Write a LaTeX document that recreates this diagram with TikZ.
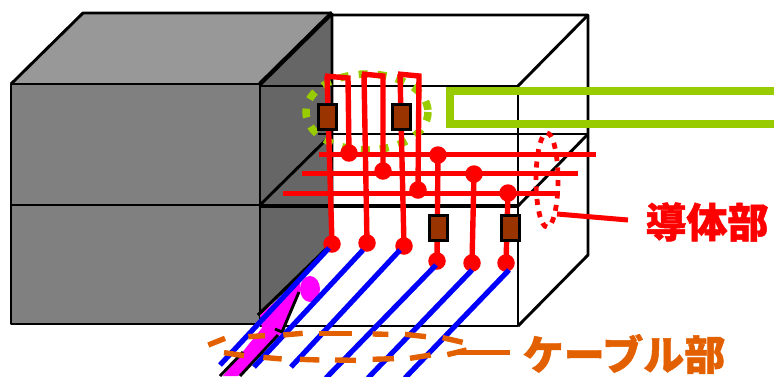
\documentclass[tikz,border=0pt]{standalone}
\usepackage{fontspec}
\newfontfamily\cjk{Noto Sans CJK JP}[BoldFeatures={FakeBold=1.2}]
\definecolor{grn}{HTML}{99CC00}
\definecolor{org}{HTML}{E36000}
\definecolor{brn}{HTML}{993300}
\definecolor{blu}{HTML}{0000FF}
\definecolor{pnk}{HTML}{FF00FF}
\definecolor{gtop}{HTML}{989898}
\definecolor{gfront}{HTML}{808080}
\definecolor{gside}{HTML}{666666}
\tikzset{
  edge/.style={draw=black,line width=2.9pt,line join=round},
  wire/.style={draw=red,line width=5.4pt,line join=miter},
  bus/.style={draw=red,line width=5pt},
  cable/.style={draw=blu,line width=5.2pt},
  dot/.style={circle,fill=red,minimum size=17.5pt,inner sep=0pt},
  chip/.style={draw=black,fill=brn,line width=3pt,minimum width=18pt,minimum height=25pt,inner sep=0pt},
  odash/.style={draw=org,line width=5.4pt},
  lab/.style={font=\cjk\bfseries\fontsize{41}{41}\selectfont,inner sep=0pt},
}
\begin{document}
\begin{tikzpicture}[x=1pt,y=-1pt]
\useasboundingbox (0,0) rectangle (774,376);
% gray block faces
\fill[gtop] (11,84)--(83,13)--(332,13)--(260,84)--cycle;
\fill[gfront] (11,84) rectangle (260,324);
\fill[gside] (260,84)--(332,13)--(332,243)--(260,315)--cycle;
% white box outline
\draw[edge] (332,15)--(588,15)--(588,255)--(518,326);
\draw[edge] (518,86)--(588,15);
\draw[edge] (318,134)--(588,134);
\draw[edge] (518,206)--(588,134);
\draw[edge] (260,86)--(518,86)--(518,326)--(260,326);
\draw[edge,line width=3.4pt] (260,206)--(518,206);
% gray outline
\draw[edge] (11,84)--(83,13)--(332,13);
\draw[edge] (11,84)--(260,84);
\draw[edge,line width=4.4pt] (260,84)--(332,13);
\draw[edge] (11,84) rectangle (260,324);
\draw[edge] (11,205)--(260,205);
\draw[edge] (260,205)--(332,134);
\draw[edge] (332,13)--(332,243)--(258,315);
% magenta pull-out
\fill[pnk] (310,289) ellipse (10 and 13);
\fill[pnk] (260,315)--(300,280)--(300,292)--(283,332)--(238,376)--(223,376)--(262,328)--cycle;
\draw[edge] (258,315)--(332,245);
\draw[edge] (299,292)--(282,332)--(275,329);
\draw[edge] (243,352)--(220,376);
\draw[edge] (278,335)--(240,376);
% green callout
\draw[draw=grn,line width=7.5pt,dash pattern=on 9pt off 10pt] (367,112) ellipse (61 and 38);
\draw[draw=grn,line width=7.5pt] (780,91)--(450,91)--(450,124)--(780,124);
% conductors
\draw[wire] (327,76)--(332,244);
\draw[wire] (325,76)--(348,78)--(349,153);
\draw[wire] (364,74)--(367,243);
\draw[wire] (362,74)--(383,76)--(383,171);
\draw[wire] (400,74)--(404,246);
\draw[wire] (398,74)--(419,76)--(418,190);
\draw[bus] (319,154)--(596,154);
\draw[bus] (302,173)--(578,173);
\draw[bus] (283,193)--(560,193);
\node[dot] (a1) at (349,153) {};
\node[dot] (a2) at (383,171) {};
\node[dot] (a3) at (418,190) {};
\node[dot] (b1) at (438,155) {};
\node[dot] (b2) at (474,174) {};
\node[dot] (b3) at (508,193) {};
\node[dot] (c1) at (332,244) {};
\node[dot] (c2) at (367,243) {};
\node[dot] (c3) at (404,246) {};
\node[dot] (c4) at (437,261) {};
\node[dot] (c5) at (472,263) {};
\node[dot] (c6) at (506,263) {};
\draw[wire] (b1.center)--(c4.center);
\draw[wire] (b2.center)--(c5.center);
\draw[wire] (b3.center)--(c6.center);
\node[chip] (k1) at (327,117) {};
\node[chip] (k2) at (401,117) {};
\node[chip] (k3) at (438,228) {};
\node[chip] (k4) at (510,228) {};
% cables
\draw[cable] (329,248)--(220,365);
\draw[cable] (363,250)--(254,367);
\draw[cable] (400,250)--(291,367);
\draw[cable] (436,265)--(326,378);
\draw[cable] (472,270)--(368,378);
\draw[cable] (509,270)--(405,378);
% red callout
\draw[draw=red,line width=4.8pt,dash pattern=on 6pt off 6.5pt] (547,180) ellipse (11 and 47);
\coordinate (rl) at (628,220);
\draw[draw=red,line width=5pt] (557,214)--(rl);
\node[lab,text=red] (t1) at (707,222) {導体部};
% orange callout
\begin{scope}[shift={(200,200)},x=0.3333pt,y=-0.3333pt]
\foreach \xa/\ya/\xb/\yb in {25/435/75/415,145/410/195/407,250/405/308/400,358/400/455/400,518/402/565/403,615/403/678/410,728/413/788/427,72/458/132/467,190/472/245/477,300/478/358/480,405/480/468/481,518/478/582/476,630/475/692/465,742/464/800/450,775/458/930/458}
  \draw[odash] (\xa,\ya)--(\xb,\yb);
\end{scope}
\node[lab,text=org] (t2) at (624,354) {ケーブル部};
\end{tikzpicture}
\end{document}
